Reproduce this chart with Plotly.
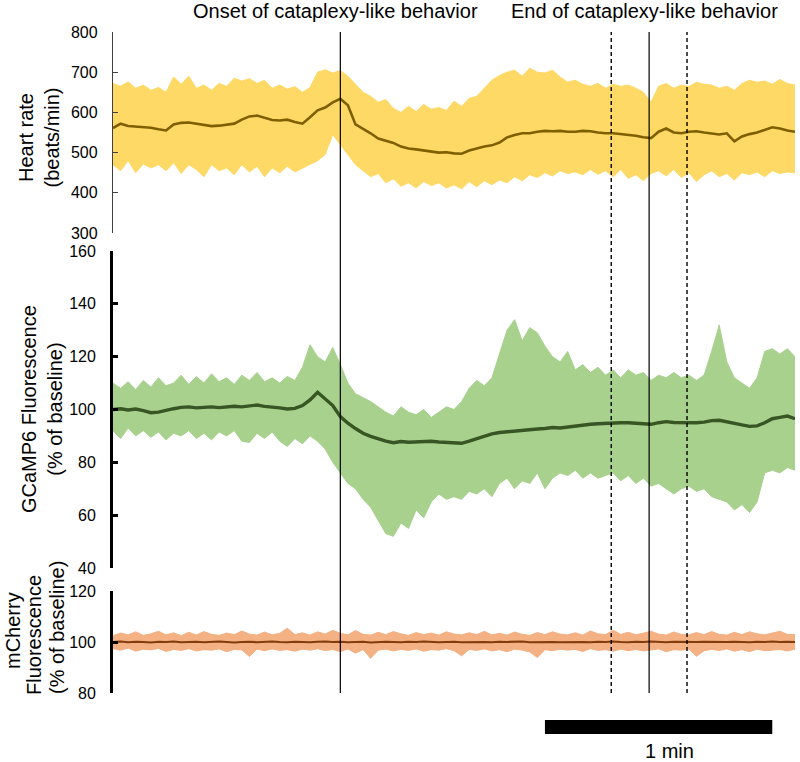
import plotly.graph_objects as go

# time grid (s), 2-s steps from 0 to 180
T = list(range(0, 181, 2))

# Heart rate (beats/min)
HR_MEAN = [561, 572, 566, 565, 563, 562, 558, 555, 570, 574,
           575, 572, 568, 566, 567, 570, 572, 582, 590, 592,
           586, 581, 580, 582, 576, 572, 588, 605, 612, 625,
           634, 618, 570, 560, 548, 535, 530, 524, 515, 510,
           508, 505, 502, 500, 501, 498, 497, 505, 510, 515,
           518, 525, 538, 544, 548, 548, 552, 554, 553, 554,
           552, 552, 554, 553, 550, 548, 548, 546, 544, 542,
           538, 536, 552, 560, 550, 548, 552, 553, 550, 548,
           545, 548, 528, 540, 546, 550, 556, 563, 560, 555, 552]
HR_HI = [672, 665, 676, 660, 668, 655, 662, 650, 688, 670,
         690, 660, 668, 655, 672, 665, 685, 678, 684, 672,
         680, 660, 668, 658, 664, 650, 662, 700, 706, 698,
         704, 690, 670, 650, 640, 625, 632, 610, 600, 615,
         602, 620, 608, 612, 605, 628, 615, 635, 640, 660,
         680, 692, 700, 705, 690, 710, 700, 698, 705, 688,
         675, 680, 670, 665, 672, 660, 670, 665, 668, 660,
         650, 625, 665, 672, 660, 668, 664, 675, 670, 668,
         660, 665, 655, 672, 680, 675, 678, 670, 682, 672, 668]
HR_LO = [470, 455, 480, 450, 472, 462, 470, 455, 475, 448,
         470, 458, 440, 470, 455, 462, 445, 470, 452, 466,
         440, 462, 450, 466, 452, 462, 470, 480, 495, 545,
         520, 495, 470, 455, 440, 448, 425, 435, 416, 425,
         412, 428, 418, 425, 412, 420, 410, 428, 415, 430,
         420, 432, 425, 440, 430, 445, 438, 450, 442, 455,
         448, 452, 445, 458, 446, 455, 440, 458, 436, 445,
         430, 448, 455, 442, 458, 438, 450, 428, 445, 455,
         440, 448, 432, 450, 445, 452, 440, 455, 448, 452, 450]

# GCaMP6 fluorescence (% of baseline)
G_MEAN = [100.0, 100.3, 99.8, 100.2, 99.6, 98.8, 99.0, 99.8, 100.3, 100.8,
          101.0, 100.6, 100.9, 101.0, 100.7, 100.9, 101.2, 101.0, 101.5, 101.7,
          101.2, 101.0, 100.6, 100.2, 100.4, 101.5, 103.6, 106.5, 104.0, 101.5,
          97.3, 94.8, 92.8, 91.0, 89.8, 88.8, 88.0, 87.4, 87.9, 87.6,
          87.8, 87.9, 88.0, 87.7, 87.5, 87.4, 87.2, 88.0, 89.0, 90.0,
          90.8, 91.3, 91.6, 92.0, 92.3, 92.3, 92.6, 92.8, 93.2, 93.0,
          93.4, 93.8, 94.0, 94.4, 94.6, 94.8, 94.9, 95.0, 95.0, 94.8,
          94.4, 94.4, 95.0, 95.4, 95.1, 95.0, 94.8, 95.0, 95.2, 95.8,
          95.9, 95.4, 95.0, 94.2, 93.6, 93.8, 95.0, 96.5, 97.0, 97.5, 96.5]
G_HI = [110, 108, 110.5, 107.5, 111, 108.5, 112, 109, 110, 113,
        109.5, 112.5, 110, 113.5, 110.5, 112, 109.5, 113, 111, 114,
        110.5, 112, 110, 112.5, 111, 116, 124.5, 120, 118, 123.5,
        117, 110, 106, 104.5, 103, 101, 99, 97.5, 101, 99,
        98, 100, 97, 99, 101, 100, 103, 108, 111, 109,
        112, 121, 130, 134, 126, 131, 129, 124, 120, 118,
        122, 115, 117, 114, 116, 113, 115, 112, 115, 113,
        114, 111, 113, 112, 114, 112, 113, 111, 113, 122,
        132, 118, 112, 110, 108, 112, 122, 123, 121, 123, 120]
G_LO = [92, 89, 93, 90, 92, 89.5, 91.5, 88.5, 91, 90,
        92, 89, 91, 88.5, 91.5, 90, 92, 88, 87.5, 91,
        89, 91.5, 88, 86, 89, 87, 90, 88, 85, 80,
        76, 72, 70, 66, 63, 58, 53, 52, 57, 55,
        62, 59, 65, 68, 66, 67, 66, 69, 68, 70,
        67, 72, 74, 70, 73, 72, 76, 70, 74, 76,
        75, 77, 74, 76, 74, 75, 76, 73, 75, 72,
        74, 71, 72, 70, 68, 70, 71, 69, 70, 67,
        66, 65, 62, 64, 61, 65, 76, 77, 76, 78, 77]

# mCherry fluorescence (% of baseline)
M_MEAN = [100.0, 100.2, 99.9, 100.1, 100.0, 99.8, 100.1, 100.0, 100.2, 99.9,
          100.0, 100.1, 99.9, 100.0, 100.2, 100.0, 99.8, 100.0, 100.1, 99.9,
          100.0, 100.2, 100.0, 99.9, 100.1, 100.0, 99.9, 100.1, 100.2, 100.0,
          100.1, 99.9, 100.0, 100.1, 99.8, 100.0, 100.1, 100.0, 99.9, 100.1,
          100.0, 100.2, 100.0, 99.9, 100.0, 100.1, 99.9, 100.0, 100.1, 100.0,
          99.9, 100.1, 100.0, 100.0, 100.2, 99.9, 100.0, 100.1, 100.0, 99.9,
          100.0, 100.1, 100.0, 99.9, 100.1, 100.0, 100.2, 100.0, 99.9, 100.1,
          100.0, 100.2, 100.0, 99.9, 100.1, 100.0, 99.9, 100.0, 100.1, 100.0,
          99.9, 100.0, 100.1, 100.0, 99.9, 100.1, 100.0, 100.2, 100.0, 100.1, 100.0]
M_HI = [102.5, 103.5, 102.8, 104.0, 102.6, 103.2, 104.2, 102.8, 103.6, 102.5,
        103.8, 102.7, 104.1, 103.0, 102.6, 103.5, 102.9, 104.3, 103.1, 102.7,
        103.9, 102.8, 103.4, 105.4, 102.9, 103.6, 102.7, 104.0, 103.1, 104.6,
        103.4, 102.8, 104.5, 103.0, 102.7, 103.8, 102.9, 104.1, 103.2, 102.6,
        103.7, 102.9, 103.5, 102.7, 104.0, 103.1, 102.8, 103.6, 102.9, 104.2,
        102.8, 103.4, 102.7, 103.9, 103.0, 102.6, 103.7, 102.9, 104.0, 103.1,
        102.8, 103.6, 102.7, 104.3, 103.2, 102.9, 104.6, 103.0, 103.8, 102.8,
        103.5, 104.2, 103.1, 102.7, 103.9, 103.0, 102.8, 103.7, 102.9, 104.1,
        103.0, 102.7, 103.8, 102.9, 104.0, 103.2, 102.8, 103.6, 104.2, 103.0, 102.9]
M_LO = [97.4, 96.8, 97.6, 96.4, 97.2, 96.9, 97.5, 96.3, 97.1, 96.7,
        97.4, 96.5, 97.0, 96.8, 97.3, 96.2, 97.1, 96.9, 94.3, 97.2,
        96.6, 97.3, 96.7, 97.0, 96.4, 97.2, 96.8, 97.4, 96.6, 97.1,
        96.2, 97.3, 95.6, 97.0, 93.6, 96.8, 97.2, 96.5, 97.1, 96.7,
        97.3, 96.4, 97.0, 96.8, 97.4, 96.6, 94.6, 97.1, 96.7, 97.3,
        96.5, 97.0, 96.2, 97.2, 96.8, 96.1, 93.9, 97.0, 96.6, 97.2,
        96.8, 97.1, 96.3, 97.4, 96.7, 97.0, 96.4, 97.2, 96.6, 97.1,
        96.5, 96.9, 97.3, 96.2, 97.0, 96.8, 97.2, 94.4, 96.6, 97.1,
        96.7, 97.3, 96.4, 97.0, 96.2, 97.2, 96.6, 96.8, 97.1, 96.5, 97.2]

ONSET_T = 60
END_T = 141.5
END_SD = [131.5, 151.5]
SCALE_BAR = [114, 174]

FONT = "Liberation Sans, Arial, sans-serif"

PANELS = [
    dict(ax="y", mean=HR_MEAN, hi=HR_HI, lo=HR_LO, band="#FFD966", line="#7F6000", lw=2.6),
    dict(ax="y2", mean=G_MEAN, hi=G_HI, lo=G_LO, band="#A9D18E", line="#375623", lw=3.4),
    dict(ax="y3", mean=M_MEAN, hi=M_HI, lo=M_LO, band="#F4B183", line="#843C0C", lw=2.2),
]

fig = go.Figure()
for p in PANELS:
    fig.add_trace(go.Scatter(x=T, y=p["lo"], yaxis=p["ax"], mode="lines",
                             line=dict(color=p["band"], width=1), hoverinfo="skip",
                             showlegend=False))
    fig.add_trace(go.Scatter(x=T, y=p["hi"], yaxis=p["ax"], mode="lines",
                             line=dict(color=p["band"], width=1), fill="tonexty",
                             fillcolor=p["band"], hoverinfo="skip", showlegend=False))
    fig.add_trace(go.Scatter(x=T, y=p["mean"], yaxis=p["ax"], mode="lines",
                             line=dict(color=p["line"], width=p["lw"]), showlegend=False))

W, H = 800, 762
TOP, BOT = 32, 693          # plot area in window pixels
LEFT, RIGHT = 113, 795
PH = BOT - TOP


def py(px):
    return (BOT - px) / PH


def pxx(px):
    return (px - LEFT) / (RIGHT - LEFT)


common = dict(showgrid=False, zeroline=False, ticks="inside", ticklen=5,
              showline=True, tickfont=dict(family=FONT, size=16, color="black"),
              ticklabelstandoff=11, anchor="x")

fig.update_layout(
    width=W, height=H,
    margin=dict(l=LEFT, r=W - RIGHT, t=TOP, b=H - BOT, pad=0),
    paper_bgcolor="white", plot_bgcolor="white",
    font=dict(family=FONT, color="black"),
    xaxis=dict(range=[0, 180], visible=False),
    yaxis=dict(domain=[py(233), 1], range=[300, 800], dtick=100,
               linecolor="#404040", linewidth=1.3, tickcolor="#404040", tickwidth=1.3, **common),
    yaxis2=dict(domain=[py(568), py(251)], range=[40, 160], dtick=20,
                linecolor="black", linewidth=2.8, tickcolor="black", tickwidth=2.8, **common),
    yaxis3=dict(domain=[0, py(591)], range=[80, 120], dtick=20,
                linecolor="black", linewidth=2.8, tickcolor="black", tickwidth=2.8, **common),
)

shapes = []
for xv in [ONSET_T, END_T]:
    shapes.append(dict(type="line", xref="x", yref="paper", x0=xv, x1=xv, y0=0, y1=1,
                       line=dict(color="black", width=1.2), layer="above"))
for xv in END_SD:
    shapes.append(dict(type="line", xref="x", yref="paper", x0=xv, x1=xv, y0=0, y1=1,
                       line=dict(color="black", width=1.4, dash="4px,3px"), layer="above"))
shapes.append(dict(type="rect", xref="x", yref="paper", x0=SCALE_BAR[0], x1=SCALE_BAR[1],
                   y0=py(734), y1=py(720), fillcolor="black", line=dict(width=0)))
fig.update_layout(shapes=shapes)

ann = [
    dict(text="Onset of cataplexy-like behavior", x=58.6, xref="x", y=py(11), yref="paper"),
    dict(text="End of cataplexy-like behavior", x=140.2, xref="x", y=py(11), yref="paper"),
    dict(text="1 min", x=146.9, xref="x", y=py(751), yref="paper"),
    dict(text="Heart rate<br>(beats/min)", x=pxx(38), xref="paper", y=py(137.5), yref="paper", textangle=-90),
    dict(text="GCaMP6 Fluorescence<br>(% of baseline)", x=pxx(42), xref="paper", y=py(409), yref="paper", textangle=-90),
    dict(text="mCherry", x=pxx(13), xref="paper", y=py(631), yref="paper", textangle=-90, borderpad=0),
    dict(text="Fluorescence", x=pxx(34), xref="paper", y=py(635), yref="paper", textangle=-90, borderpad=0),
    dict(text="(% of baseline)", x=pxx(57), xref="paper", y=py(628), yref="paper", textangle=-90, borderpad=0),
]
for a in ann:
    a.update(showarrow=False, xanchor="center", yanchor="middle",
             font=dict(family=FONT, size=20, color="black"))
fig.update_layout(annotations=ann)

# remove the default 8 px page margin so the figure sits at the window's corner
fig.write_html("out.html", config={"displayModeBar": False},
               post_script="document.body.style.margin='0px';")
